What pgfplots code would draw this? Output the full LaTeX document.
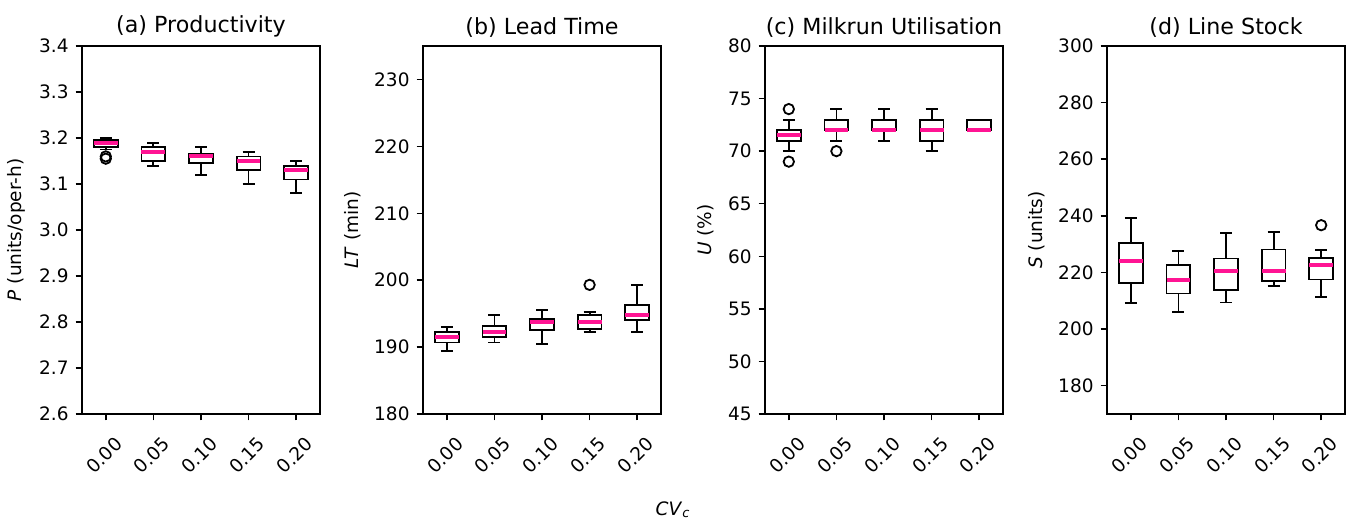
\documentclass[border=0pt]{standalone}
\usepackage{fontspec}
\setmainfont{DejaVu Sans}
\usepackage{pgfplots}
\pgfplotsset{compat=1.18}
\usepgfplotslibrary{statistics}
\definecolor{medpink}{HTML}{FF1493}

\pgfplotsset{
  panel/.style={
    scale only axis, width=119pt, height=184pt, anchor=north west,
    xmin=0.5, xmax=5.5,
    xtick={1,2,3,4,5},
    xticklabels={0.00,0.05,0.10,0.15,0.20},
    tick align=outside, tick pos=left, major tick length=3.2pt,
    every tick/.style={black, line width=0.74pt},
    axis line style={line width=0.74pt},
    /pgf/number format/assume math mode=true,
    ticklabel style={font=\fontsize{9.25}{11}\selectfont},
    xticklabel style={yshift=-17.5pt, xshift=-0.8pt, rotate=45, anchor=center},
    label style={font=\fontsize{9.25}{11}\selectfont},
    title style={font=\fontsize{11.1}{13}\selectfont, yshift=-5pt},
    boxplot/draw direction=y,
    boxplot/box extend=0.5,
    boxplot/whisker extend=0.25,
    boxplot/every median/.style={draw=medpink, line width=2pt},
  },
  bx/.style={draw=black, line width=0.9pt, mark=o, mark size=2.6pt,
    mark options={solid, draw=black, line width=0.9pt}},
  bp/.style n args={6}{boxplot prepared={draw position=#1,
    lower whisker=#2, lower quartile=#3, median=#4,
    upper quartile=#5, upper whisker=#6}},
}

\begin{document}
\begin{tikzpicture}
\path[use as bounding box] (0pt,0pt) rectangle (674.5pt,-260pt);

\begin{axis}[panel, at={(41pt,-23pt)},
  title={(a) Productivity},
  ylabel={\textit{P} (units/oper-h)},
  ymin=2.6, ymax=3.4,
  ytick={2.6,2.7,2.8,2.9,3.0,3.1,3.2,3.3,3.4},
  yticklabel style={/pgf/number format/fixed, /pgf/number format/precision=1, /pgf/number format/fixed zerofill},
]
\addplot[bx, bp={1}{3.175}{3.181}{3.19}{3.195}{3.20}] table[row sep=\\, y index=0] {v\\ 3.16\\ 3.155\\};
\addplot[bx, bp={2}{3.14}{3.15}{3.17}{3.18}{3.19}] coordinates {};
\addplot[bx, bp={3}{3.12}{3.145}{3.16}{3.165}{3.18}] coordinates {};
\addplot[bx, bp={4}{3.10}{3.13}{3.15}{3.16}{3.17}] coordinates {};
\addplot[bx, bp={5}{3.08}{3.11}{3.13}{3.14}{3.15}] coordinates {};
\end{axis}

\begin{axis}[panel, at={(211.5pt,-23pt)},
  title={(b) Lead Time},
  ylabel={\textit{LT} (min)},
  ymin=180, ymax=235,
  ytick={180,190,200,210,220,230},
]
\addplot[bx, bp={1}{189.4}{190.7}{191.5}{192.2}{193.0}] coordinates {};
\addplot[bx, bp={2}{190.7}{191.5}{192.2}{193.2}{194.8}] coordinates {};
\addplot[bx, bp={3}{190.5}{192.6}{193.7}{194.2}{195.6}] coordinates {};
\addplot[bx, bp={4}{192.2}{192.7}{193.8}{194.8}{195.3}] table[row sep=\\, y index=0] {v\\ 199.3\\};
\addplot[bx, bp={5}{192.3}{194.0}{194.8}{196.3}{199.3}] coordinates {};
\end{axis}

\begin{axis}[panel, at={(382.5pt,-23pt)},
  title={(c) Milkrun Utilisation},
  ylabel={\textit{U} (\%)},
  ymin=45, ymax=80,
  ytick={45,50,55,60,65,70,75,80},
]
\addplot[bx, bp={1}{70}{71}{71.5}{72}{73}] table[row sep=\\, y index=0] {v\\ 74\\ 69\\};
\addplot[bx, bp={2}{71}{72}{72}{73}{74}] table[row sep=\\, y index=0] {v\\ 70\\};
\addplot[bx, bp={3}{71}{72}{72}{73}{74}] coordinates {};
\addplot[bx, bp={4}{70}{71}{72}{73}{74}] coordinates {};
\addplot[bx, bp={5}{72}{72}{72}{73}{73}] coordinates {};
\end{axis}

\begin{axis}[panel, at={(553.5pt,-23pt)},
  title={(d) Line Stock},
  ylabel={\textit{S} (units)},
  ymin=170, ymax=300,
  ytick={180,200,220,240,260,280,300},
]
\addplot[bx, bp={1}{209.1}{216.4}{224.0}{230.4}{239.2}] coordinates {};
\addplot[bx, bp={2}{206.0}{212.6}{217.4}{222.7}{227.5}] coordinates {};
\addplot[bx, bp={3}{209.4}{213.7}{220.6}{224.9}{234.0}] coordinates {};
\addplot[bx, bp={4}{215.1}{217.1}{220.6}{228.1}{234.2}] coordinates {};
\addplot[bx, bp={5}{211.4}{217.5}{222.5}{225.2}{228.0}] table[row sep=\\, y index=0] {v\\ 236.7\\};
\end{axis}

\node[font=\fontsize{9.25}{11}\selectfont] at (336.5pt,-255pt) {\textit{CV}\textsubscript{\textit{c}}};
\end{tikzpicture}
\end{document}
